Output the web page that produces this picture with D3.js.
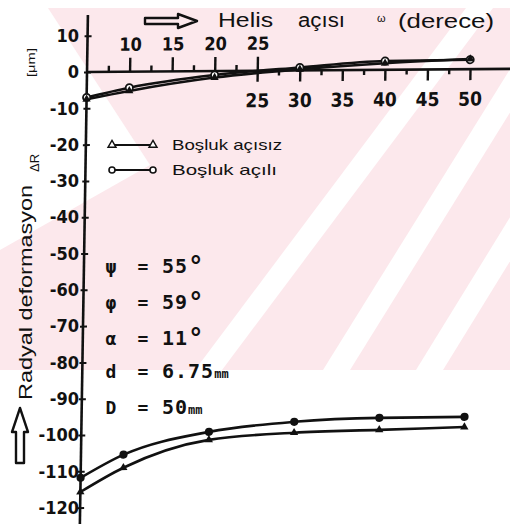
<!DOCTYPE html>
<html>
<head>
<meta charset="utf-8">
<script src="https://cdn.jsdelivr.net/npm/d3@7"></script>
<style>
  body { margin: 0; background: #fff; }
  svg { display: block; }
</style>
</head>
<body>
<svg id="chart" width="510" height="524"></svg>
<script>
// helix angle (degrees)
const helixAngles = [5, 10, 20, 30, 40, 50];

// radial deformation (µm) - pair close to zero
const acisizUpper = [-7.5, -5.3, -1.8, 0.3, 1.8, 2.8];
const aciliUpper = [-7.0, -4.4, -1.1, 0.8, 2.4, 2.6];

// radial deformation (µm) - pair around -100
const aciliLower = [-111.8, -105.5, -99.4, -96.8, -95.9, -95.8];
const acisizLower = [-115.7, -109.1, -101.6, -99.8, -99.2, -98.6];

const yTicks = [10, 0, -10, -20, -30, -40, -50, -60, -70, -80, -90, -100, -110, -120];
const xTopLabels = [10, 15, 20, 25];
const xBottomLabels = [25, 30, 35, 40, 45, 50];
const xTopMinor = [7.5, 12.5, 17.5, 22.5];
const xBottomMinor = [27.5, 32.5, 37.5, 42.5, 47.5];

const legendLabels = ["Boşluk açısız", "Boşluk açılı"];
const paramSymbols = ["ψ", "φ", "α", "d", "D"];
const paramValues = ["55", "59", "11", "6.75", "50"];
const paramUnits = ["°", "°", "°", "mm", "mm"];

const svg = d3.select("#chart");

// faint pink watermark of the scanned page
const wm = svg.append("g");
wm.append("clipPath").attr("id", "wmclip")
  .append("rect").attr("x", 0).attr("y", 8).attr("width", 510).attr("height", 362);
const wmg = wm.append("g").attr("clip-path", "url(#wmclip)");
wmg.append("rect").attr("x", 0).attr("y", 8).attr("width", 510).attr("height", 362).attr("fill", "#fce8ec");
[
  [[0, 8], [48, 8], [150, 165], [0, 250]],
  [[195, 370], [222, 370], [493, 8], [466, 8]],
  [[323, 370], [350, 370], [580, 0], [553, 0]],
  [[416, 370], [443, 370], [560, 180], [533, 180]]
].forEach(p => wmg.append("polygon").attr("points", p.join(" ")).attr("fill", "#fff"));

const x = d3.scaleLinear().domain([5, 50]).range([87, 470]);
const y = d3.scaleLinear().domain([10, -120]).range([35.7, 507.6]);

const ink = "#111";
const tickFont = "'Liberation Sans Narrow', 'DejaVu Sans Condensed', sans-serif";

// hand drawn axes are a little slanted in the scan
const plot = svg.append("g")
  .attr("transform", "matrix(1,-0.0075,-0.0158,1,1.15,0.66)");

// y axis line + ticks
plot.append("line")
  .attr("x1", x(5)).attr("x2", x(5))
  .attr("y1", y(15.7)).attr("y2", y(-124.5))
  .attr("stroke", ink).attr("stroke-width", 2.6);

plot.append("g")
  .attr("transform", `translate(${x(5) - 3},0)`)
  .call(d3.axisRight(y).tickValues(yTicks).tickSize(7).tickFormat(""))
  .call(g => g.select(".domain").remove())
  .call(g => g.selectAll("line").attr("stroke", ink).attr("stroke-width", 2));

// x axis line
plot.append("line")
  .attr("x1", x(5)).attr("x2", x(55))
  .attr("y1", y(0)).attr("y2", y(0))
  .attr("stroke", ink).attr("stroke-width", 2.6);

function styleX(g, size) {
  g.select(".domain").remove();
  g.selectAll("line").attr("stroke", ink).attr("stroke-width", 2.4);
  g.selectAll("text")
    .attr("fill", ink)
    .attr("font-family", tickFont)
    .attr("font-weight", "bold")
    .attr("font-size", size);
}

plot.append("g")
  .attr("transform", `translate(0,${y(0)})`)
  .call(d3.axisTop(x).tickValues(xTopLabels).tickSize(14).tickPadding(7).tickFormat(d3.format("d")))
  .call(g => styleX(g, 18));
plot.append("g")
  .attr("transform", `translate(0,${y(0)})`)
  .call(d3.axisTop(x).tickValues(xTopMinor).tickSize(6).tickFormat(""))
  .call(g => styleX(g, 18));
plot.append("g")
  .attr("transform", `translate(0,${y(0)})`)
  .call(d3.axisBottom(x).tickValues(xBottomLabels).tickSize(11).tickPadding(12).tickFormat(d3.format("d")))
  .call(g => styleX(g, 19));
plot.append("g")
  .attr("transform", `translate(0,${y(0)})`)
  .call(d3.axisBottom(x).tickValues(xBottomMinor).tickSize(5).tickFormat(""))
  .call(g => styleX(g, 18));

// curves
const line = d3.line()
  .x((d, i) => x(helixAngles[i]))
  .y(d => y(d))
  .curve(d3.curveMonotoneX);

const series = [
  { values: aciliUpper, marker: "circle", open: true },
  { values: acisizUpper, marker: "triangle", open: false },
  { values: aciliLower, marker: "circle", open: false },
  { values: acisizLower, marker: "triangle", open: false }
];

series.forEach(s => {
  plot.append("path")
    .attr("d", line(s.values))
    .attr("fill", "none")
    .attr("stroke", ink)
    .attr("stroke-width", 2.6);
});

series.forEach(s => {
  const g = plot.append("g");
  if (s.marker === "circle") {
    g.selectAll("circle").data(s.values).join("circle")
      .attr("cx", (d, i) => x(helixAngles[i]))
      .attr("cy", d => y(d))
      .attr("r", s.open ? 3.6 : 3.2)
      .attr("fill", s.open ? "#fff" : ink)
      .attr("stroke", ink)
      .attr("stroke-width", 1.8);
  } else {
    g.selectAll("path").data(s.values).join("path")
      .attr("transform", (d, i) => `translate(${x(helixAngles[i])},${y(d)})`)
      .attr("d", d3.symbol(d3.symbolTriangle).size(30))
      .attr("fill", ink);
  }
});

// y tick labels (not slanted in the scan)
svg.append("g")
  .attr("transform", "translate(80,0)")
  .call(d3.axisLeft(y).tickValues(yTicks).tickSize(0).tickPadding(1).tickFormat(d => String(d)))
  .call(g => g.select(".domain").remove())
  .call(g => g.selectAll("text")
    .attr("fill", ink)
    .attr("font-family", tickFont)
    .attr("font-weight", "bold")
    .attr("font-size", 18));

// title with hollow arrow
svg.append("path")
  .attr("d", "M145,18 L178,18 L178,14 L197,21 L178,28 L178,24 L145,24 Z")
  .attr("fill", "none").attr("stroke", ink).attr("stroke-width", 2.4)
  .attr("stroke-linejoin", "round");
const titleFont = "'Liberation Sans', Arial, sans-serif";
[
  { t: "Helis", x: 218, y: 27, size: 20, len: 55 },
  { t: "açısı", x: 298, y: 27, size: 20, len: 47 },
  { t: "ω", x: 377, y: 22, size: 11, len: null },
  { t: "(derece)", x: 398, y: 28, size: 21, len: 96 }
].forEach(w => {
  const t = svg.append("text")
    .attr("x", w.x).attr("y", w.y)
    .attr("font-family", titleFont).attr("font-size", w.size)
    .attr("fill", ink).text(w.t);
  if (w.len) t.attr("textLength", w.len).attr("lengthAdjust", "spacingAndGlyphs");
});

// y axis title
svg.append("text")
  .attr("transform", "translate(32,400) rotate(-90)")
  .attr("font-family", titleFont).attr("font-size", 18).attr("fill", ink)
  .attr("textLength", 215).attr("lengthAdjust", "spacingAndGlyphs")
  .text("Radyal deformasyon");
svg.append("text")
  .attr("transform", "translate(39,172) rotate(-90)")
  .attr("font-family", titleFont).attr("font-size", 13).attr("fill", ink)
  .text("ΔR");
svg.append("text")
  .attr("transform", "translate(35,77) rotate(-90)")
  .attr("font-family", titleFont).attr("font-size", 11).attr("fill", ink)
  .attr("textLength", 29).attr("lengthAdjust", "spacingAndGlyphs")
  .text("[μm]");
svg.append("path")
  .attr("d", "M20,408 L28,432 L24,432 L24,463 L16,463 L16,432 L12,432 Z")
  .attr("fill", "#fff").attr("stroke", ink).attr("stroke-width", 2.4)
  .attr("stroke-linejoin", "round");

// legend
const legend = svg.append("g");
legendLabels.forEach((lab, i) => {
  const ly = 145 + i * 25;
  const g = legend.append("g").attr("transform", `translate(0,${ly})`);
  g.append("line").attr("x1", 112).attr("x2", 153).attr("y1", 0).attr("y2", 0)
    .attr("stroke", ink).attr("stroke-width", 2);
  [112, 153].forEach(mx => {
    if (i === 0) {
      g.append("path").attr("transform", `translate(${mx},0)`)
        .attr("d", d3.symbol(d3.symbolTriangle).size(28))
        .attr("fill", "#fff").attr("stroke", ink).attr("stroke-width", 1.4);
    } else {
      g.append("circle").attr("cx", mx).attr("cy", 0).attr("r", 3)
        .attr("fill", "#fff").attr("stroke", ink).attr("stroke-width", 1.6);
    }
  });
  g.append("text")
    .attr("x", 172).attr("y", 5)
    .attr("font-family", titleFont).attr("font-size", 15).attr("fill", ink)
    .attr("textLength", i === 0 ? 110 : 105).attr("lengthAdjust", "spacingAndGlyphs")
    .text(lab);
});

// drill parameters
const monoFont = "'DejaVu Sans Mono', 'Liberation Mono', monospace";
const params = svg.append("g")
  .attr("font-family", monoFont).attr("font-weight", "bold").attr("fill", ink);
const rowY = [273, 309, 345, 378, 414];
paramSymbols.forEach((s, i) => {
  params.append("text").attr("x", 111).attr("y", rowY[i])
    .attr("text-anchor", "middle").attr("font-size", 18).text(s);
  params.append("text").attr("x", 143).attr("y", rowY[i])
    .attr("text-anchor", "middle").attr("font-size", 18).text("=");
  const t = params.append("text").attr("x", 162).attr("y", rowY[i])
    .attr("font-size", 20).attr("letter-spacing", 1);
  t.append("tspan").text(paramValues[i]);
  if (paramUnits[i] === "°") {
    t.append("tspan").attr("font-size", 26).attr("dy", 2).text("°");
  } else {
    t.append("tspan").attr("font-size", 12).attr("letter-spacing", 0).text(paramUnits[i]);
  }
});
</script>
</body>
</html>
